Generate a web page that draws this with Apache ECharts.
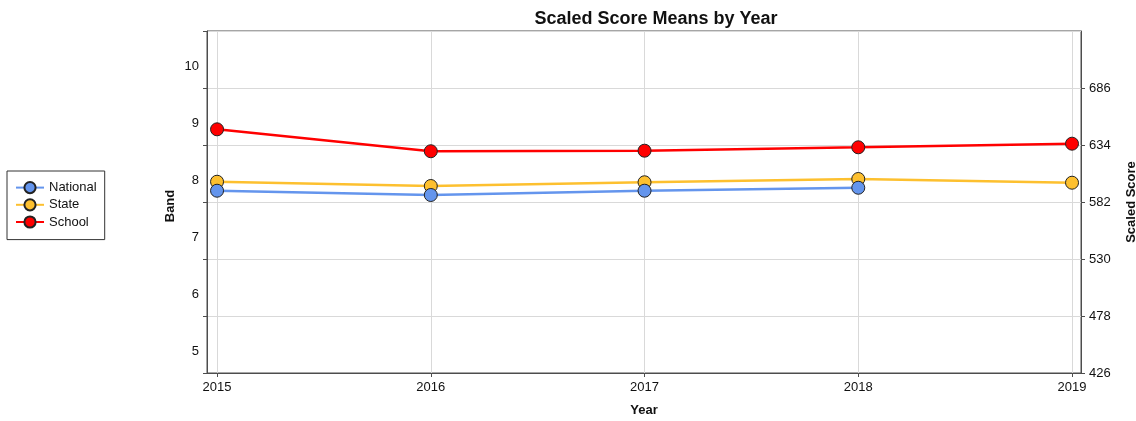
<!DOCTYPE html>
<html>
<head>
<meta charset="utf-8">
<script src="https://cdn.jsdelivr.net/npm/echarts@6/dist/echarts.min.js"></script>
<style>
  html, body { margin: 0; padding: 0; background: #fff; }
  #chart { width: 1136px; height: 421px; }
</style>
</head>
<body>
<div id="chart"></div>
<script>
// values, in scaled-score units (right axis)
const years = [2015, 2016, 2017, 2018, 2019]
const bandLabels = ['5', '6', '7', '8', '9', '10']
const nationalScores = [592.3, 588.4, 592.3, 595.0, null]
const stateScores = [600.5, 596.6, 600.0, 603.0, 599.6]
const schoolScores = [648.3, 628.3, 628.8, 631.9, 635.2]

const pairs = (vals) => years.map((y, i) => [y, vals[i]])

const chart = echarts.init(document.getElementById('chart'))

const axisColor = '#4d4d4d'
const gridColor = '#d9d9d9'
const font = 'Liberation Sans, Arial, sans-serif'

const lineSeries = (name, color, vals, z) => ({
  name,
  type: 'line',
  yAxisIndex: 1,
  data: pairs(vals),
  symbol: 'circle',
  symbolSize: 13,
  z,
  lineStyle: { width: 2.5, color },
  itemStyle: { color, borderColor: '#222', borderWidth: 1 },
  emphasis: { disabled: true },
  connectNulls: false,
})

const option = {
  backgroundColor: '#fff',
  animation: false,
  textStyle: { fontFamily: font },
  title: {
    text: 'Scaled Score Means by Year',
    left: 651,
    textAlign: 'center',
    top: 5,
    textStyle: { fontSize: 18, fontWeight: 'bold', color: '#111', fontFamily: font },
  },
  legend: {
    orient: 'vertical',
    left: 7,
    top: 171,
    padding: [10, 8, 11, 8],
    itemWidth: 28,
    itemHeight: 14,
    itemGap: 4,
    borderColor: '#333',
    borderWidth: 1,
    data: ['National', 'State', 'School'],
    textStyle: { fontSize: 13, color: '#111', fontFamily: font, width: 63 },
  },
  grid: {
    left: 207,
    right: 55,
    top: 31,
    bottom: 48,
    show: true,
    borderColor: axisColor,
    borderWidth: 1,
    outerBoundsMode: 'none',
    containLabel: false,
  },
  xAxis: {
    type: 'value',
    min: 2014.953,
    max: 2019.042,
    name: 'Year',
    nameLocation: 'middle',
    nameGap: 31,
    nameTextStyle: { fontWeight: 'bold', fontSize: 13, color: '#111' },
    axisLine: { lineStyle: { color: axisColor } },
    axisTick: { show: true, length: 4, lineStyle: { color: axisColor }, customValues: years },
    axisLabel: { color: '#111', fontSize: 13, margin: 8, customValues: years, formatter: (v) => String(v) },
    splitLine: { show: true, lineStyle: { color: gridColor } },
  },
  yAxis: [
    {
      type: 'category',
      data: bandLabels,
      boundaryGap: true,
      position: 'left',
      name: 'Band',
      nameLocation: 'middle',
      nameGap: 30,
      nameMoveOverlap: false,
      nameRotate: 90,
      nameTextStyle: { fontWeight: 'bold', fontSize: 13, color: '#111', padding: [0, 0, 0, -8] },
      axisLine: { show: true, lineStyle: { color: axisColor } },
      axisTick: { show: true, length: 4, interval: 0, lineStyle: { color: axisColor } },
      axisLabel: { color: '#111', fontSize: 13, margin: 8, verticalAlign: 'top' },
      splitLine: { show: true, interval: 0, lineStyle: { color: gridColor } },
    },
    {
      type: 'value',
      position: 'right',
      min: 426,
      max: 738,
      interval: 52,
      name: 'Scaled Score',
      nameLocation: 'middle',
      nameGap: 44,
      nameRotate: 90,
      nameTextStyle: { fontWeight: 'bold', fontSize: 13, color: '#111' },
      axisLine: { show: true, lineStyle: { color: axisColor } },
      axisTick: { show: true, length: 4, lineStyle: { color: axisColor } },
      axisLabel: { color: '#111', fontSize: 13, margin: 8, showMaxLabel: false },
      splitLine: { show: false },
    },
  ],
  series: [
    lineSeries('National', '#6495ed', nationalScores, 4),
    lineSeries('State', '#fdc02f', stateScores, 3),
    lineSeries('School', '#ff0000', schoolScores, 2),
  ],
}

chart.setOption(option)
</script>
</body>
</html>
